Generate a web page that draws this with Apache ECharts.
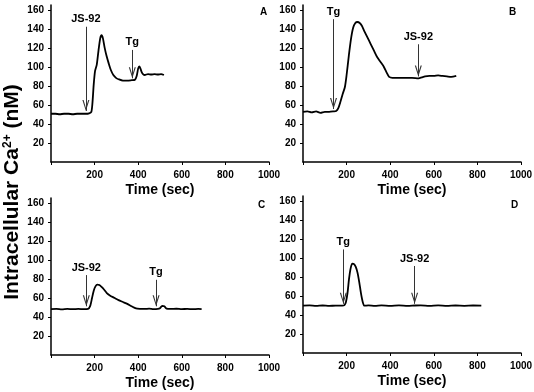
<!DOCTYPE html>
<html>
<head>
<meta charset="utf-8">
<script src="https://cdn.jsdelivr.net/npm/echarts@6/dist/echarts.min.js"></script>
<style>
html,body{margin:0;padding:0;background:#fff;}
#c{width:534px;height:392px;}
</style>
</head>
<body>
<div id="c"></div>
<script>
// ---- Data ----
var panelLetters = ['A', 'B', 'C', 'D'];
var xTickLabels = [200, 400, 600, 800, 1000];
var yTickLabels = [20, 40, 60, 80, 100, 120, 140, 160];

var timeA = [0,20,40,60,80,100,120,140,160,175,185,190,196,202,210,218,226,232,238,246,255,265,275,286,298,310,330,350,370,385,393,400,405,410,416,422,430,445,460,475,490,505,518];
var caA   = [51,51,50.5,51,51,50.5,51,51,51,51.5,53,62,82,96,103,118,131,134,131,121,112,104,97,92,89,87.5,86,86,86.5,87,91,99,101,99,95,93,92,93,92.5,93,92.5,93,92];

var timeB = [0,20,40,60,80,100,120,140,152,162,172,182,192,200,210,220,230,240,250,260,270,280,295,310,325,340,355,370,385,395,410,440,470,500,530,545,560,580,600,620,640,660,680,703];
var caB   = [53,53.5,52.5,53.5,52,53,53,53.5,54,57,64,72,79,92,112,130,142,147,148,147,144,139,132,125,118,111,106,101,94,90,89,89,89,89,88.5,89.5,90.5,91,91,91.5,91,90.5,90,91];

var timeC = [0,25,50,75,100,125,150,170,180,188,196,204,212,222,232,244,256,270,290,310,330,350,370,390,410,430,450,470,490,500,510,520,530,550,575,600,625,650,675,691];
var caC   = [48.5,48.7,48.3,48.7,48.5,48.7,48.5,48.8,52,60,68,72.5,74.5,74,72,69,65.5,63,60.5,58,56,54,51.5,49.3,48.8,48.7,49,48.6,48.8,49.5,52,51.5,49,48.7,48.9,48.5,48.8,48.4,48.7,48.5];

var timeD = [0,30,60,90,120,150,180,190,197,204,211,218,226,234,242,250,258,266,274,282,300,330,360,400,440,480,512,540,580,620,660,700,740,780,818];
var caD   = [50,50.3,49.8,50.2,49.8,50.1,50,50.5,54,63,78,89,94.5,94,91,85,75,63,54,50,50.3,49.8,50.4,49.9,50.3,49.8,50.2,50.4,49.9,50.3,49.8,50.2,49.9,50.2,50];

// additions (agent name, time in sec)
var eventNamesA = ['JS-92', 'Tg'];  var eventTimesA = [160, 373];
var eventNamesB = ['Tg', 'JS-92'];  var eventTimesB = [140, 529];
var eventNamesC = ['JS-92', 'Tg'];  var eventTimesC = [162, 482];
var eventNamesD = ['Tg', 'JS-92'];  var eventTimesD = [185, 512];

// ---- Build chart ----
var FONT = '"Liberation Sans", Arial, sans-serif';
function zip(t, v) { return t.map(function (x, i) { return [x, v[i]]; }); }
function plain(v) { return String(v); }

var times = [timeA, timeB, timeC, timeD];
var vals = [caA, caB, caC, caD];
var evNames = [eventNamesA, eventNamesB, eventNamesC, eventNamesD];
var evTimes = [eventTimesA, eventTimesB, eventTimesC, eventTimesD];
// arrow shaft top / tip (in nM) per panel
var arrowTop = [[143, 118.5], [151, 124.5], [84.5, 79.5], [109.5, 92]];
var arrowTip = [[54, 88.5], [56, 90.5], [51.5, 51.5], [52, 52]];

var grids = [
  {left: 51, top: 5, width: 218, height: 157},
  {left: 303, top: 5, width: 218, height: 157},
  {left: 51, top: 198, width: 218, height: 157},
  {left: 303, top: 196, width: 218, height: 157}
];
var letterPos = [[263.5, 12], [512.5, 12], [261.5, 205], [514.5, 205]];

var option = {
  animation: false,
  backgroundColor: '#fff',
  grid: grids.map(function (g) { return Object.assign({outerBoundsMode: 'none', containLabel: false}, g); }),
  xAxis: grids.map(function (g, i) {
    return {
      type: 'value', gridIndex: i, min: 0, max: 1000, interval: 200,
      name: 'Time (sec)', nameLocation: 'middle', nameGap: 21,
      nameTextStyle: {fontFamily: FONT, fontWeight: 'bold', fontSize: 14, color: '#000'},
      axisLine: {show: true, onZero: false, lineStyle: {color: '#000', width: 1.5}},
      axisTick: {show: true, length: 3, lineStyle: {color: '#000', width: 1}, customValues: [0, 200, 400, 600, 800, 1000]},
      axisLabel: {fontFamily: FONT, fontWeight: 'bold', fontSize: 10, color: '#000', margin: 8, customValues: xTickLabels, formatter: plain},
      splitLine: {show: false}
    };
  }),
  yAxis: grids.map(function (g, i) {
    return {
      type: 'value', gridIndex: i, min: 0, max: 166, interval: 20,
      axisLine: {show: true, onZero: false, lineStyle: {color: '#000', width: 1.5}},
      axisTick: {show: true, length: 3, lineStyle: {color: '#000', width: 1}, customValues: yTickLabels},
      axisLabel: {fontFamily: FONT, fontWeight: 'bold', fontSize: 10, color: '#000', margin: 7, customValues: yTickLabels, formatter: plain},
      splitLine: {show: false}
    };
  }),
  series: times.map(function (t, i) {
    return {
      type: 'line', xAxisIndex: i, yAxisIndex: i,
      data: zip(t, vals[i]),
      showSymbol: false, symbol: 'none',
      smooth: 0.25,
      lineStyle: {color: '#000', width: 1.8},
      silent: true,
      markLine: {
        silent: true,
        symbol: ['none', 'path://M5,0 L10,12 L8.3,12 L5,3.6 L1.7,12 L0,12 Z'],
        symbolSize: [7, 11],
        symbolOffset: [0, [0, 5.5]],
        lineStyle: {color: '#333', width: 1, type: 'solid'},
        itemStyle: {color: '#333'},
        label: {
          show: true, position: 'start', distance: 2, formatter: '{b}',
          fontFamily: FONT, fontWeight: 'bold', fontSize: 11, color: '#000'
        },
        emphasis: {disabled: true},
        data: evTimes[i].map(function (et, k) {
          return [
            {name: evNames[i][k], coord: [et, arrowTop[i][k]]},
            {coord: [et, arrowTip[i][k]]}
          ];
        })
      }
    };
  }),
  graphic: [
    {
      type: 'text', x: 12, y: 192, rotation: Math.PI / 2,
      style: {
        text: '{a|Intracellular Ca}{s|2+}{a| (nM)}',
        align: 'center', verticalAlign: 'middle',
        rich: {
          a: {fontFamily: FONT, fontWeight: 'bold', fontSize: 21, fill: '#000'},
          s: {fontFamily: FONT, fontWeight: 'bold', fontSize: 12, fill: '#000', verticalAlign: 'top', padding: [0, 0, 6, 0]}
        },
        fill: '#000'
      }
    }
  ].concat(panelLetters.map(function (L, i) {
    return {
      type: 'text', x: letterPos[i][0], y: letterPos[i][1],
      style: {text: L, align: 'center', verticalAlign: 'middle', fontFamily: FONT, fontWeight: 'bold', fontSize: 10, fill: '#000'}
    };
  }))
};

var chart = echarts.init(document.getElementById('c'), null, {renderer: 'canvas'});
chart.setOption(option);
</script>
</body>
</html>
